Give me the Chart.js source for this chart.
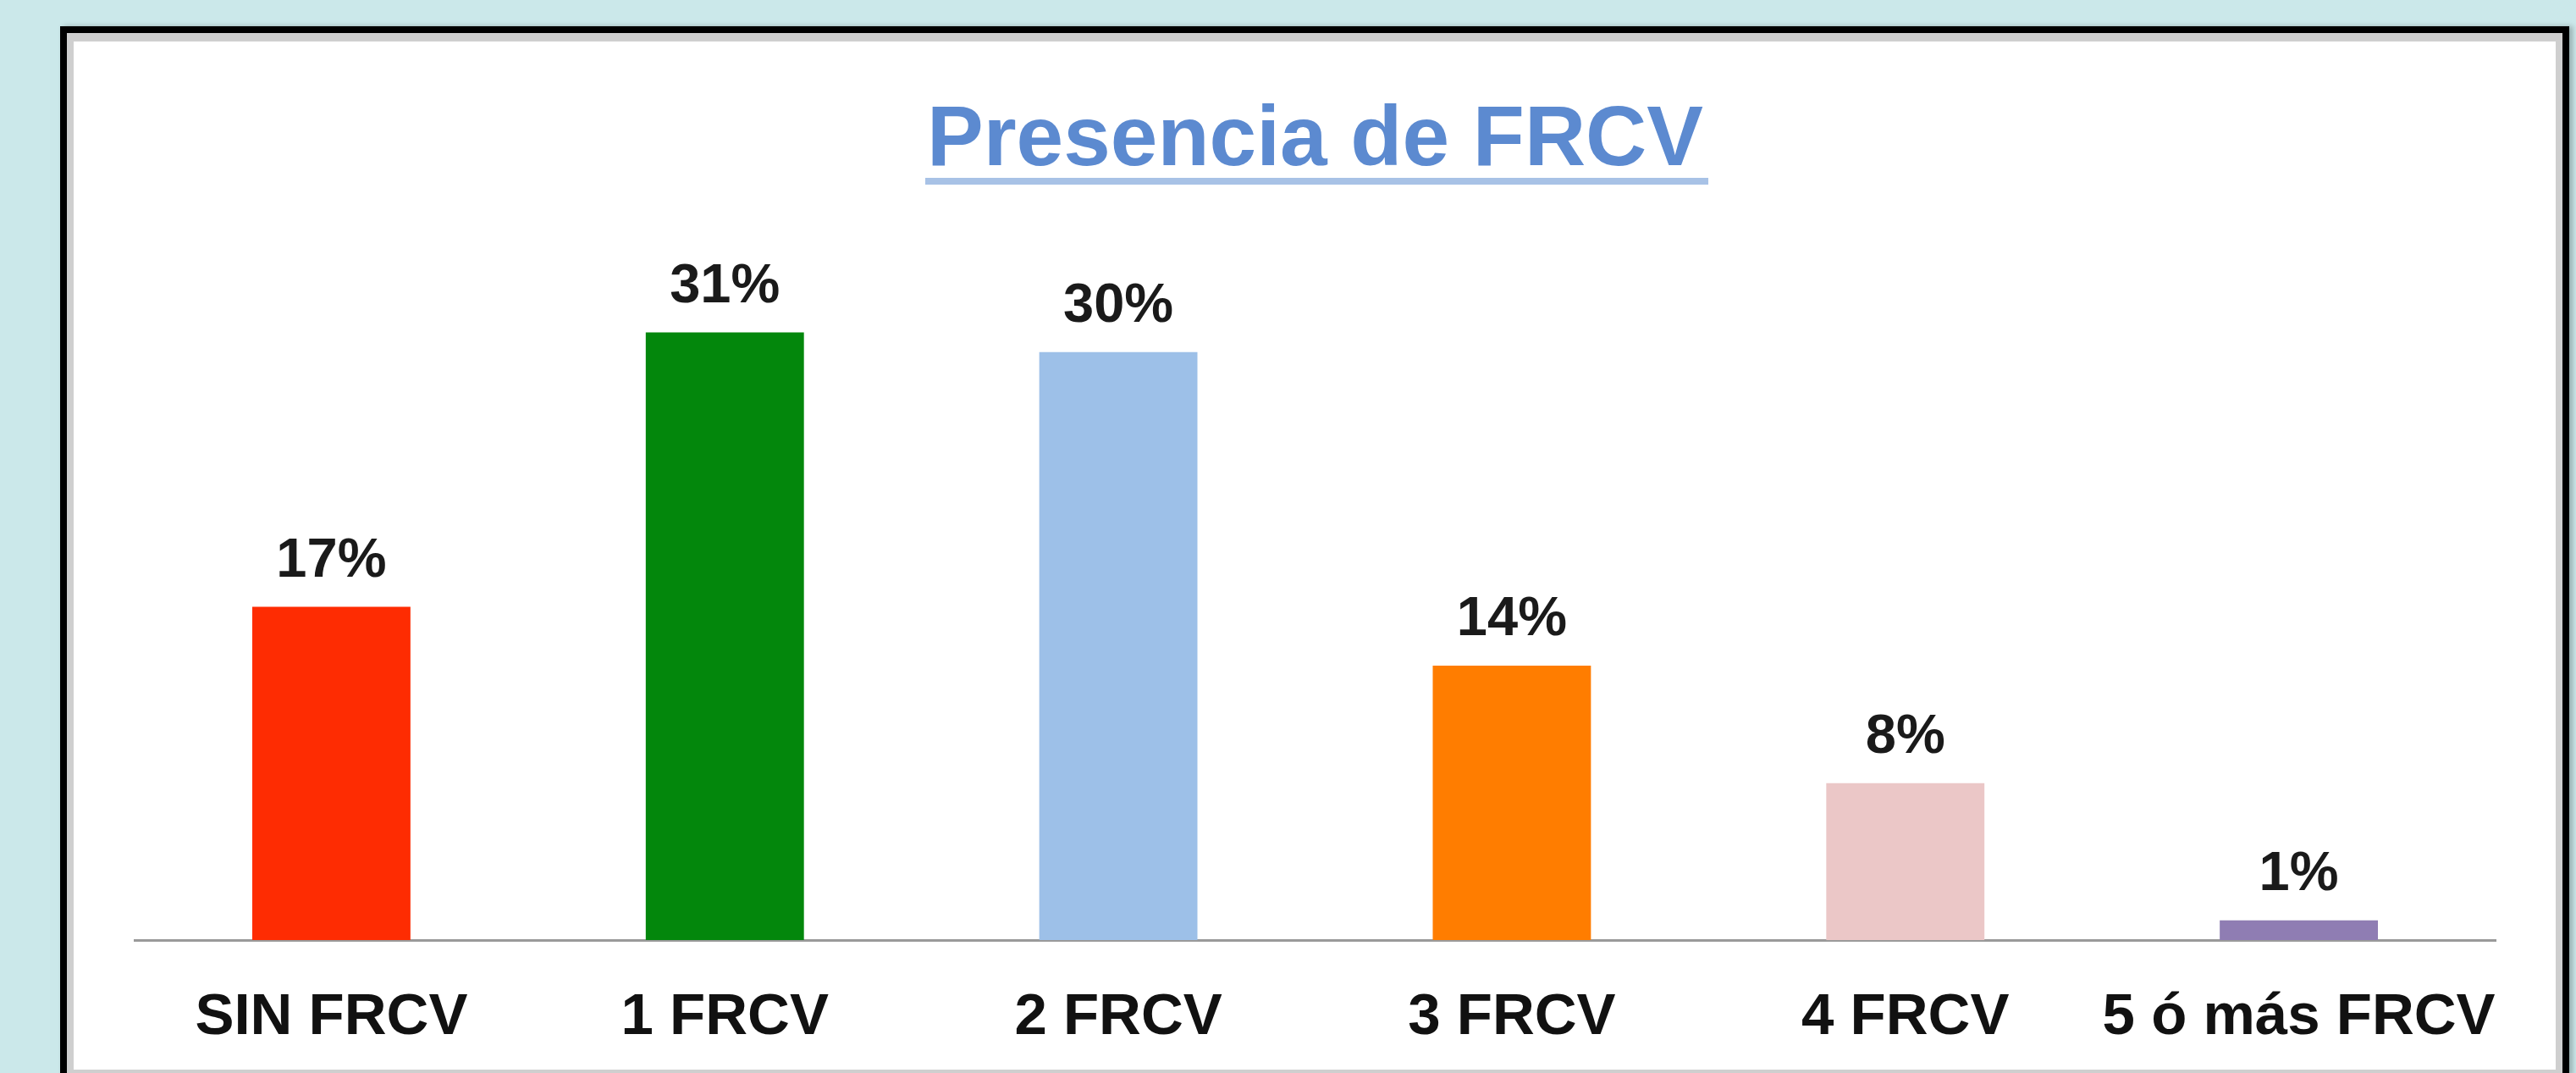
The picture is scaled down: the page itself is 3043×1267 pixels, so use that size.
<!DOCTYPE html>
<html>
<head>
<meta charset="utf-8">
<title>Presencia de FRCV</title>
<script src="https://cdn.jsdelivr.net/npm/chart.js@4/dist/chart.umd.min.js"></script>
<style>
  html, body { margin: 0; padding: 0; }
  body {
    width: 3043px; height: 1267px; overflow: hidden;
    background: #cbe8ea; position: relative;
    font-family: "Liberation Sans", Arial, sans-serif;
  }
  .frame {
    position: absolute; left: 71px; top: 31px;
    width: 2948px; height: 1232px;
    border: 8px solid #000; border-bottom: none;
    box-shadow: 4px 0 6px rgba(0,0,0,0.25);
  }
  .inner {
    position: absolute; left: 0; top: 0; right: 0; bottom: 0;
    border: 8px solid #cfcfcf; border-top-width: 10px;
    background: #fff;
  }
  .chart-box { position: absolute; left: 0; top: 0; width: 2932px; height: 1214px; }
</style>
</head>
<body>
<div class="frame">
  <div class="inner">
    <div class="chart-box"><canvas id="frcvChart"></canvas></div>
  </div>
</div>
<script>
// data
const categories = ['SIN FRCV', '1 FRCV', '2 FRCV', '3 FRCV', '4 FRCV', '5 ó más FRCV'];
const percentages = [17, 31, 30, 14, 8, 1];
const barColors = ['#fe2c02', '#03870c', '#9dc0e8', '#ff7d00', '#ebc7c7', '#8f7db3'];

const FONT = '"Liberation Sans", Arial, sans-serif';

// draws "NN%" above each bar
const valueLabels = {
  id: 'valueLabels',
  afterDatasetsDraw(chart) {
    const ctx = chart.ctx;
    const meta = chart.getDatasetMeta(0);
    ctx.save();
    ctx.font = 'bold 65px ' + FONT;
    ctx.fillStyle = '#1a1a1a';
    ctx.textAlign = 'center';
    ctx.textBaseline = 'alphabetic';
    meta.data.forEach(function(bar, i) {
      ctx.fillText(percentages[i] + '%', bar.x, bar.y - 36);
    });
    ctx.restore();
  }
};

// underline under the title
const titleUnderline = {
  id: 'titleUnderline',
  afterDraw(chart) {
    const t = chart.titleBlock;
    if (!t) return;
    const ctx = chart.ctx;
    const text = chart.options.plugins.title.text;
    ctx.save();
    ctx.font = 'bold 100px ' + FONT;
    const w = ctx.measureText(text).width;
    const cx = (t.left + t.right) / 2;
    const baseline = t.top + 58 + 60 + 35;
    ctx.fillStyle = '#a8c2e6';
    ctx.fillRect(cx - w / 2 - 2, baseline + 8, w + 8, 8);
    ctx.restore();
  }
};

new Chart(document.getElementById('frcvChart').getContext('2d'), {
  type: 'bar',
  data: {
    labels: categories,
    datasets: [{
      label: 'Presencia de FRCV',
      data: percentages,
      backgroundColor: barColors,
      borderWidth: 0,
      barPercentage: 0.402,
      categoryPercentage: 1
    }]
  },
  options: {
    responsive: true,
    maintainAspectRatio: false,
    animation: false,
    layout: { padding: { left: 72, right: 71, top: 0, bottom: 0 } },
    plugins: {
      legend: { display: false },
      tooltip: { enabled: false },
      title: {
        display: true,
        text: 'Presencia de FRCV',
        color: '#5c8ad0',
        font: { family: FONT, size: 100, weight: 'bold' },
        padding: { top: 58, bottom: 73 }
      }
    },
    scales: {
      x: {
        grid: { display: false, drawTicks: false },
        border: { display: true, color: '#9a9a9a', width: 3 },
        ticks: {
          color: '#111',
          font: { family: FONT, size: 69, weight: 'bold' },
          padding: 51,
          autoSkip: false,
          maxRotation: 0
        },
        afterFit: function(scale) { scale.height = 153; }
      },
      y: {
        display: false,
        min: 0,
        max: 35
      }
    }
  },
  plugins: [valueLabels, titleUnderline]
});
</script>
</body>
</html>
